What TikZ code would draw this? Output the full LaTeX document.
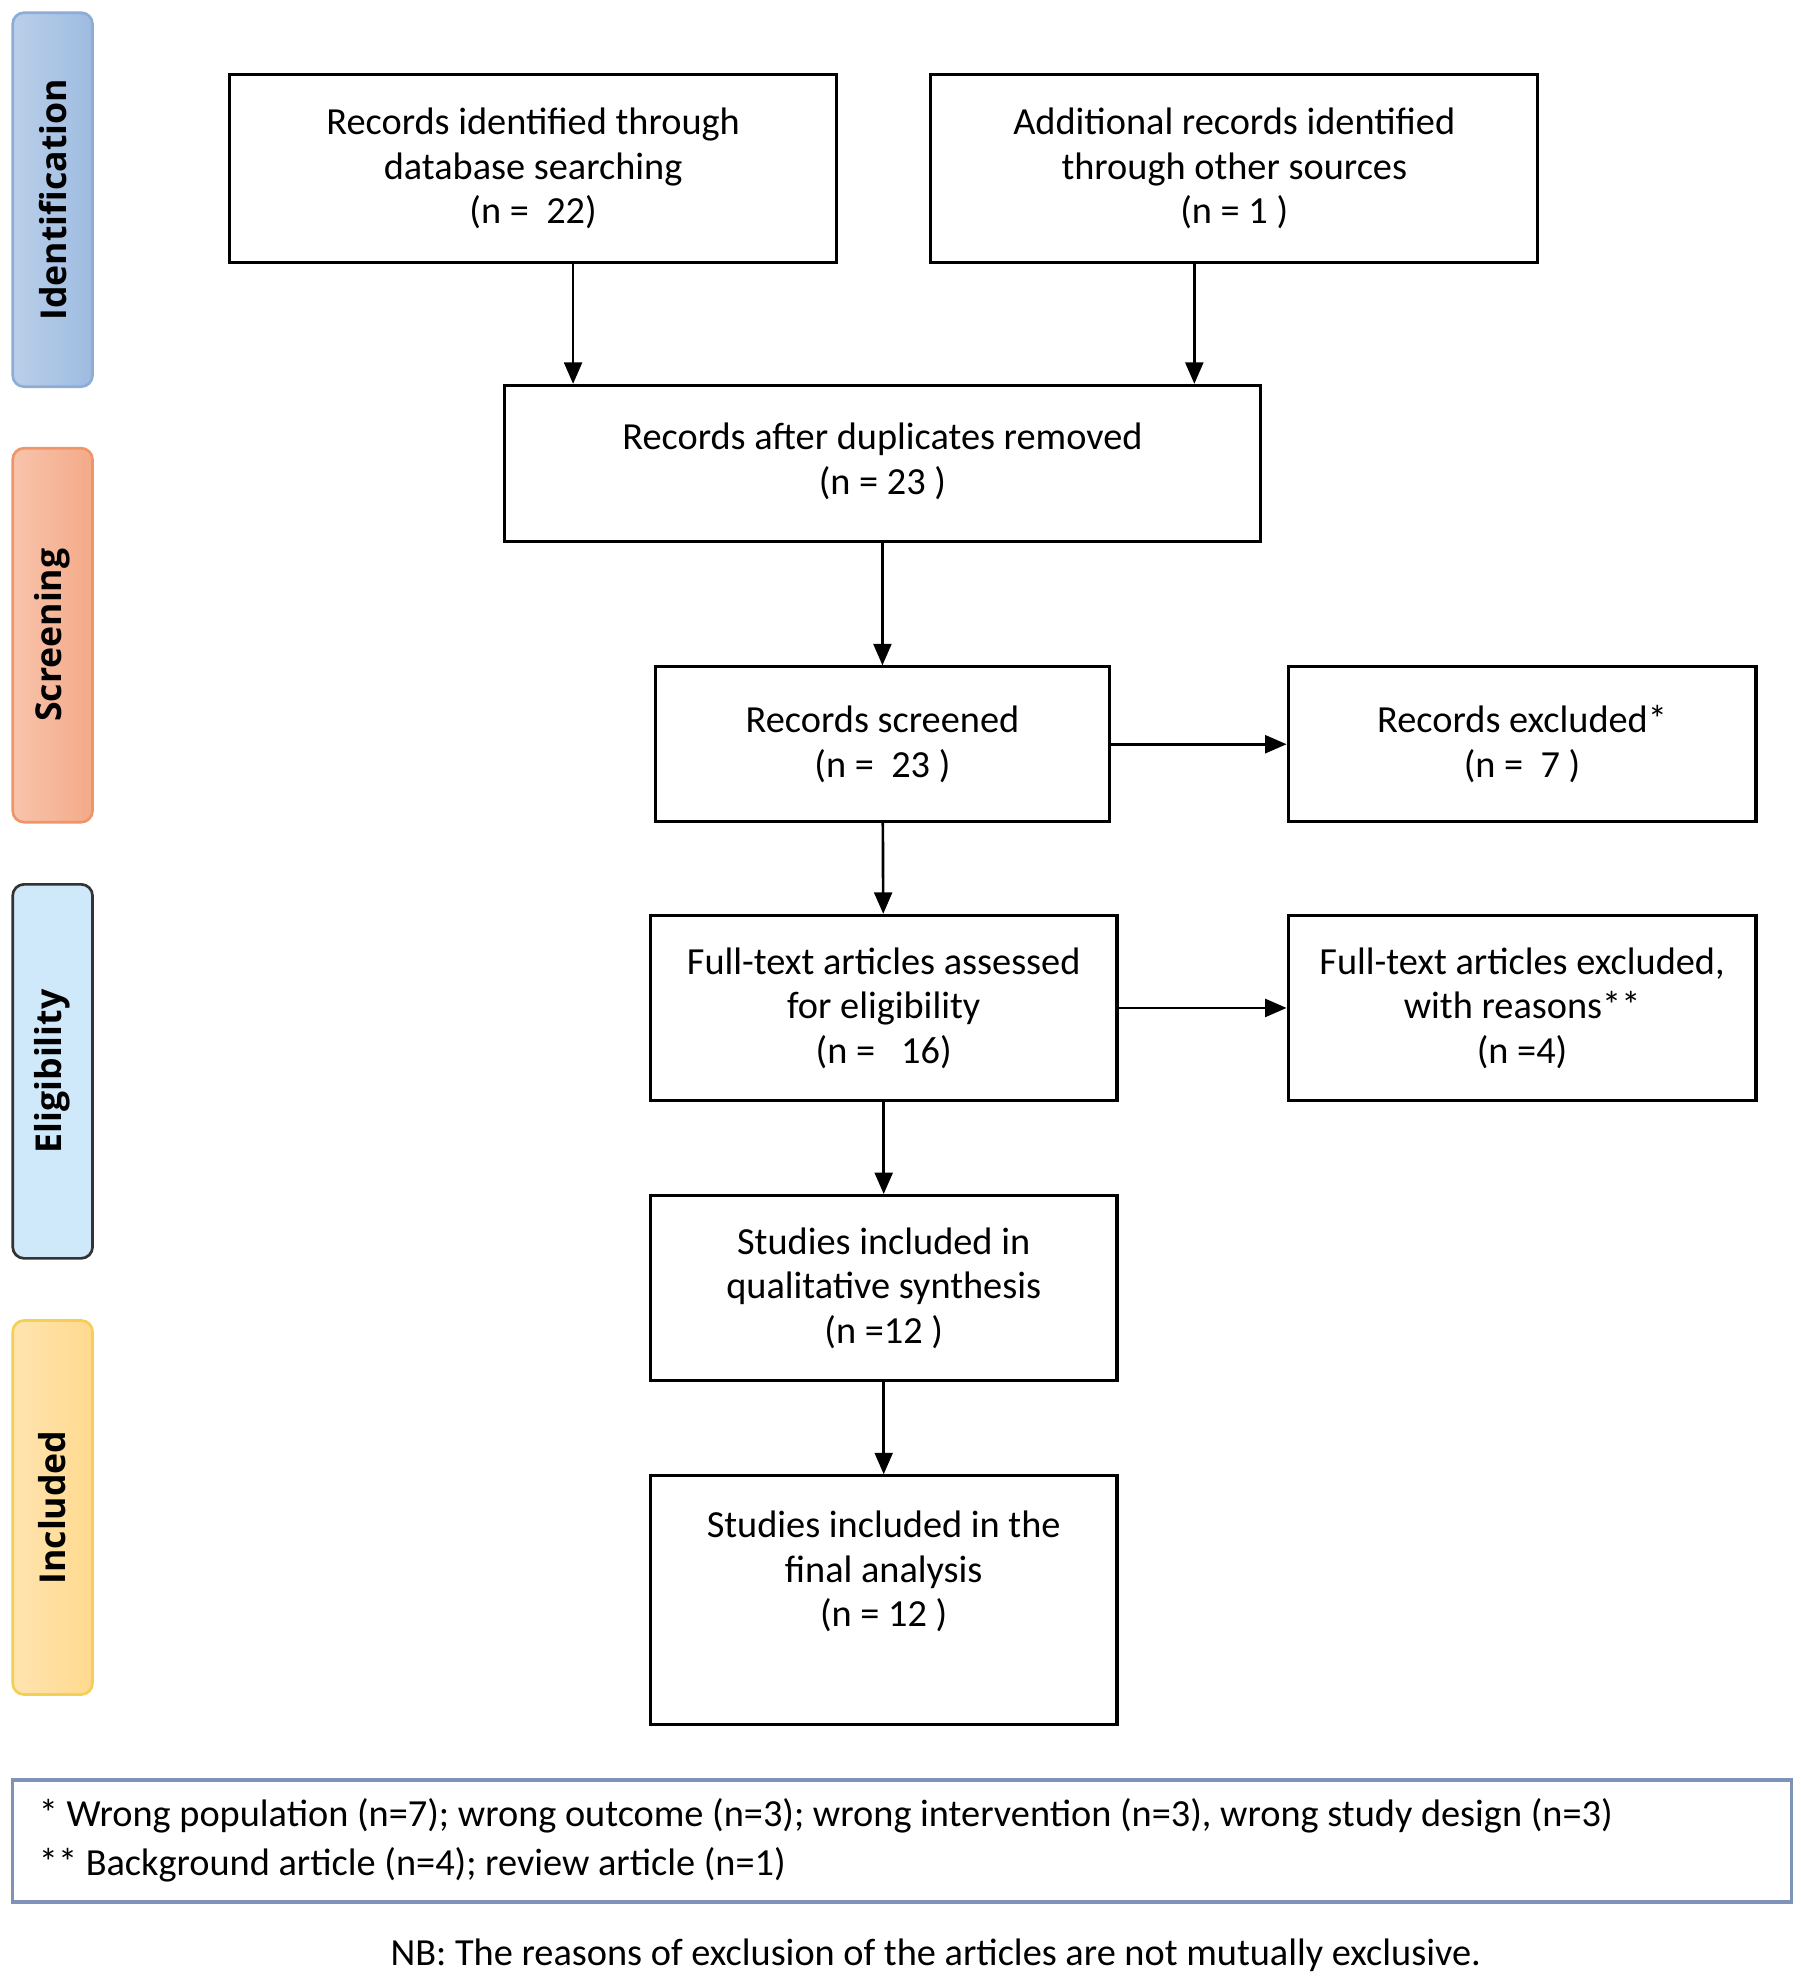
\documentclass[tikz,border=0pt]{standalone}
\usepackage{fontspec}
\setmainfont{Carlito}
\newfontfamily\tabfont{Open Sans}
\usetikzlibrary{arrows.meta}

\definecolor{identfill}{HTML}{9DBBE0}
\definecolor{identdraw}{HTML}{8EACD6}
\definecolor{screenfill}{HTML}{F4AA88}
\definecolor{screendraw}{HTML}{F0956A}
\definecolor{eligfill}{HTML}{CFE8FA}
\definecolor{incfill}{HTML}{FFD98E}
\definecolor{incdraw}{HTML}{F3CF55}
\definecolor{notedraw}{HTML}{7F93B8}

\tikzset{
  box/.style={draw, line width=0.7pt, align=center, inner sep=0pt,
    font=\fontsize{8.6}{10}\selectfont},
  arr/.style={-{Triangle[length=4.8pt,width=4pt]}, line width=0.6pt},
  tab/.style={rotate=90, rounded corners=0.09cm, line width=0.6pt,
    minimum width=2.95cm, minimum height=0.63cm,
    font=\tabfont\bfseries\fontsize{8}{9}\selectfont}
}

\begin{document}
\begin{tikzpicture}
  \useasboundingbox (0,0) rectangle (14.2,-15.68);

  % phase tabs
  \node [tab, draw=identdraw, left color=identfill!70!white, right color=identfill]
    (tabid) at (0.415,-1.575) {Identification};
  \node [tab, draw=screendraw, left color=screenfill!70!white, right color=screenfill]
    (tabscr) at (0.415,-5.01) {Screening};
  \node [tab, draw=black!80, fill=eligfill] (tabelig) at (0.415,-8.45) {Eligibility};
  \node [tab, draw=incdraw, left color=incfill!70!white, right color=incfill]
    (tabinc) at (0.415,-11.89) {Included};

  % boxes
  \node [box, minimum width=4.79cm, minimum height=1.48cm] (dbase) at (4.205,-1.33)
    {Records identified through\\database searching\\(n =\ \ 22)};
  \node [box, minimum width=4.79cm, minimum height=1.48cm] (other) at (9.735,-1.33)
    {Additional records identified\\through other sources\\(n = 1 )};
  \node [box, minimum width=5.96cm, minimum height=1.23cm] (dupl) at (6.96,-3.655)
    {Records after duplicates removed\\(n = 23 )\\[-8pt]~};
  \node [box, minimum width=3.58cm, minimum height=1.22cm] (screened) at (6.96,-5.87)
    {Records screened\\(n =\ \ 23 )};
  \node [box, minimum width=3.69cm, minimum height=1.22cm] (excl) at (12.005,-5.87)
    {Records excluded*\\(n =\ \ 7 )};
  \node [box, minimum width=3.68cm, minimum height=1.46cm] (fulltext) at (6.97,-7.95)
    {Full-text articles assessed\\for eligibility\\(n =\ \ \ 16)};
  \node [box, minimum width=3.69cm, minimum height=1.46cm] (ftexcl) at (12.005,-7.95)
    {Full-text articles excluded,\\with reasons**\\(n =4)};
  \node [box, minimum width=3.68cm, minimum height=1.46cm] (qual) at (6.97,-10.16)
    {Studies included in\\qualitative synthesis\\(n =12 )};
  \node [box, minimum width=3.68cm, minimum height=1.96cm] (final) at (6.97,-12.62)
    {Studies included in the\\final analysis\\(n = 12 )\\[4pt]~};

  % connectors
  \coordinate (leftdrop) at (4.52,0);
  \coordinate (rightdrop) at (9.42,0);
  \draw [arr] (dbase.south -| leftdrop) -- (dupl.north -| leftdrop);
  \draw [arr] (other.south -| rightdrop) -- (dupl.north -| rightdrop);
  \draw [arr] (dupl) -- (screened);
  \draw [arr] (screened) -- (excl);
  \draw [arr] (screened) -- (fulltext);
  \draw [arr] (fulltext) -- (ftexcl);
  \draw [arr] (fulltext) -- (qual);
  \draw [arr] (qual) -- (final);

  % notes
  \node [draw=notedraw, line width=0.8pt, fill=white, minimum width=14.03cm,
    minimum height=0.96cm] (notes) at (7.115,-14.52) {};
  \node [anchor=west, align=left, inner sep=0pt, font=\fontsize{8.6}{10}\selectfont]
    (notetext) at (0.3,-14.515)
    {* Wrong population (n=7); wrong outcome (n=3); wrong intervention (n=3), wrong study design (n=3)\\[1pt]
     ** Background article (n=4); review article (n=1)};
  \node [font=\fontsize{8.6}{10}\selectfont] (nb) at (7.38,-15.42)
    {NB: The reasons of exclusion of the articles are not mutually exclusive.};
\end{tikzpicture}
\end{document}
